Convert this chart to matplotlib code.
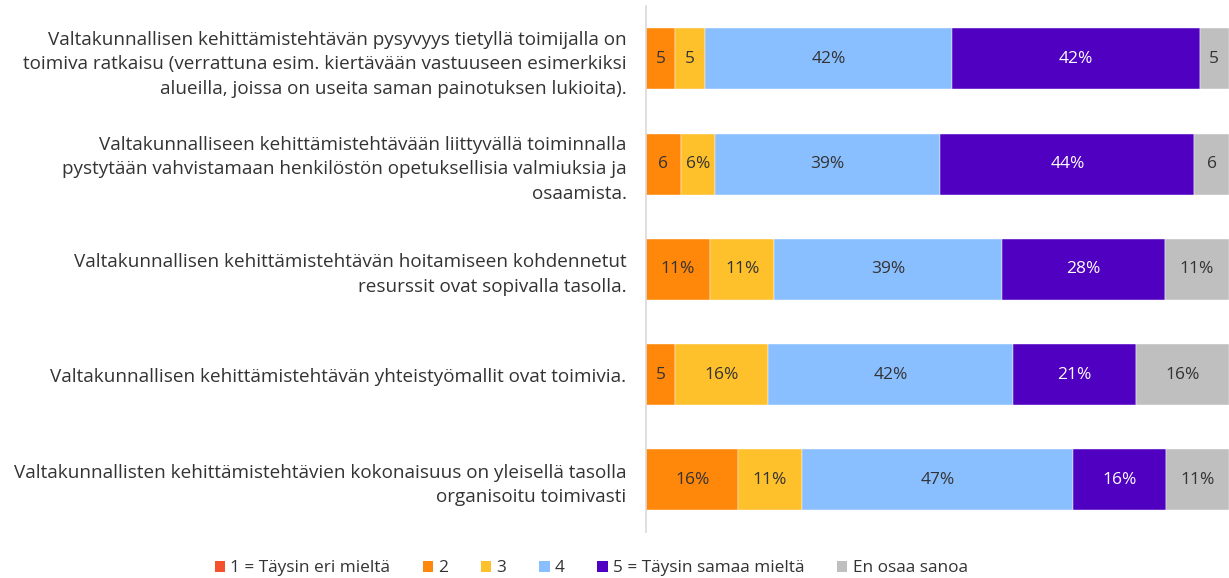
import matplotlib.pyplot as plt
import numpy as np
from matplotlib.patches import Patch

plt.rcParams['font.family'] = ['Open Sans', 'DejaVu Sans']

questions = [
    'Valtakunnallisen kehittämistehtävän pysyvyys tietyllä toimijalla on\n'
    'toimiva ratkaisu (verrattuna esim. kiertävään vastuuseen esimerkiksi\n'
    'alueilla, joissa on useita saman painotuksen lukioita).',
    'Valtakunnalliseen kehittämistehtävään liittyvällä toiminnalla\n'
    'pystytään vahvistamaan henkilöstön opetuksellisia valmiuksia ja\n'
    'osaamista.',
    'Valtakunnallisen kehittämistehtävän hoitamiseen kohdennetut\n'
    'resurssit ovat sopivalla tasolla.',
    'Valtakunnallisen kehittämistehtävän yhteistyömallit ovat toimivia.',
    'Valtakunnallisten kehittämistehtävien kokonaisuus on yleisellä tasolla\n'
    'organisoitu toimivasti',
]

series_names = ['1 = Täysin eri mieltä', '2', '3', '4',
                '5 = Täysin samaa mieltä', 'En osaa sanoa']

v1 = [0, 0, 0, 0, 0]
v2 = [5, 6, 11, 5, 16]
v3 = [5, 6, 11, 16, 11]
v4 = [42, 39, 39, 42, 47]
v5 = [42, 44, 28, 21, 16]
v_eos = [5, 6, 11, 16, 11]

lab1 = ['', '', '', '', '']
lab2 = ['5', '6', '11%', '5', '16%']
lab3 = ['5', '6%', '11%', '16%', '11%']
lab4 = ['42%', '39%', '39%', '42%', '47%']
lab5 = ['42%', '44%', '28%', '21%', '16%']
lab_eos = ['5', '6', '11%', '16%', '11%']

colors = ['#F4502E', '#FF870A', '#FFC12B', '#8ABFFF', '#5000C0', '#BFBFBF']
text_colors = ['#333333', '#333333', '#333333', '#333333', 'white', '#333333']

values = np.array([v1, v2, v3, v4, v5, v_eos], dtype=float)
labels = [lab1, lab2, lab3, lab4, lab5, lab_eos]
# rows are drawn as shares of their own total (100 % stacked)
shares = values / values.sum(axis=0) * 100

fig = plt.figure(figsize=(12.29, 5.78), dpi=100)
ax = fig.add_axes([0.5256, 0.079, 0.4744, 0.91])

y = np.arange(len(questions))
left = np.zeros(len(questions))
for i in range(len(series_names)):
    ax.barh(y, shares[i], left=left, height=0.58, color=colors[i],
            label=series_names[i], edgecolor='white', linewidth=0.3)
    for j in range(len(questions)):
        if labels[i][j]:
            ax.text(left[j] + shares[i][j] / 2, y[j], labels[i][j],
                    ha='center', va='center', fontsize=12.5,
                    color=text_colors[i])
    left += shares[i]

ax.set_xlim(0, 100)
ax.set_ylim(len(questions) - 0.5, -0.5)
ax.set_yticks(y)
ax.set_yticklabels(questions, fontsize=13.6, color='#333333',
                   linespacing=1.46)
ax.tick_params(axis='y', length=0, pad=14)
ax.set_xticks([])
for side in ['top', 'right', 'bottom']:
    ax.spines[side].set_visible(False)
ax.spines['left'].set_color('#D9D9D9')
ax.spines['left'].set_linewidth(1.2)

handles = [Patch(facecolor=c, label=n) for c, n in zip(colors, series_names)]
fig.legend(handles=handles, loc='center', bbox_to_anchor=(0.481, 0.017),
           ncol=6, frameon=False, fontsize=12.4, handlelength=0.6,
           handleheight=0.6, handletextpad=0.3, columnspacing=1.9,
           labelcolor='#333333')

fig.savefig('out.png', dpi=100)
